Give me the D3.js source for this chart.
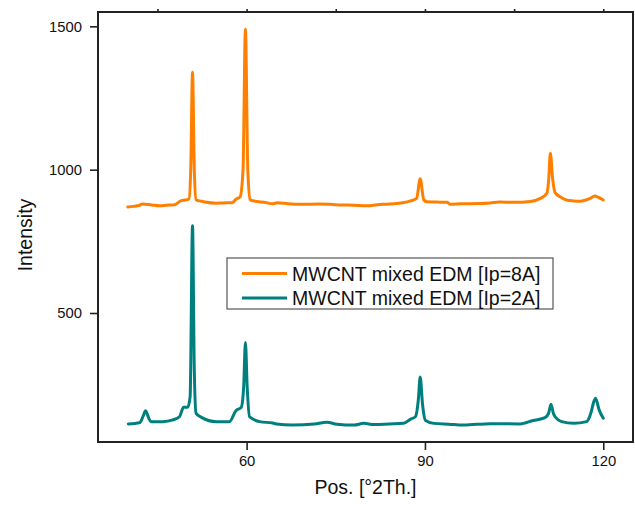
<!DOCTYPE html>
<html lang="en">
<head>
    <meta charset="UTF-8">
    <title>XRD</title>
    <script src="https://cdn.jsdelivr.net/npm/d3@7/dist/d3.min.js"></script>
    <style>
        * { margin: 0; }
        body { background: #fff; }
        svg { display: block; font-family: "Liberation Sans", Arial, sans-serif; }
    </style>
</head>
<body>
    <div id="chart"></div>
    <script>
        // 2theta positions and intensities
        const posHigh = [40, 41, 42, 42.5, 44, 45.4, 46.5, 47.9, 49, 49.7, 50.3, 50.6, 50.9, 51.2, 51.5, 52.1, 53, 54.9, 56, 57.6, 58.2, 58.9, 59.4, 59.8, 60.2, 60.6, 61, 63.3, 64.3, 65.2, 67, 69, 72.2, 74, 76, 78, 80.3, 82, 84, 86, 87.6, 88.6, 89.2, 89.8, 90.3, 92, 93.7, 94.3, 96, 99.3, 101, 102.6, 105, 107.7, 109.4, 110.5, 110.8, 111.1, 111.5, 111.9, 112.8, 113.8, 115, 116.1, 117.7, 118.6, 119.2, 120];
        const intHigh = [870, 872, 876, 880, 877, 874, 876, 878, 892, 894, 898, 1000, 1340, 1000, 895, 891, 887, 883, 884, 885, 897, 905, 1000, 1491, 1000, 895, 892, 885, 881, 885, 881, 879, 880, 879, 877, 876, 874, 878, 880, 884, 891, 900, 968, 895, 888, 887, 886, 879, 881, 882, 884, 887, 886, 889, 900, 917, 960, 1057, 965, 920, 905, 894, 891, 890, 899, 908, 903, 894];

        const posLow = [40.1, 42, 42.6, 43, 43.5, 43.9, 45.9, 47.6, 48.7, 49.4, 50.1, 50.5, 50.9, 51.2, 51.5, 52.4, 54.9, 57.1, 58.2, 59.1, 59.5, 59.8, 60.1, 60.5, 62.2, 64.4, 65, 67.7, 71.4, 73.5, 75.2, 78.1, 79.7, 81.4, 84, 86.4, 87.6, 88.4, 88.9, 89.2, 89.6, 90.1, 91.5, 94, 96.5, 101, 106, 108.2, 110.2, 110.8, 111.2, 111.6, 111.9, 113, 115, 117.2, 117.9, 118.4, 118.7, 119.3, 120];
        const intLow = [113, 117, 140, 159, 135, 121, 121, 127, 138, 171, 171, 209, 804, 300, 150, 136, 121, 121, 159, 171, 240, 397, 240, 138, 121, 116, 113, 109, 113, 119, 112, 109, 115, 111, 113, 115, 130, 138, 200, 277, 180, 125, 115, 112, 109, 114, 113, 125, 135, 150, 182, 150, 138, 121, 115, 121, 150, 190, 203, 162, 133];

        const seriesNames = ['MWCNT mixed EDM [Ip=8A]', 'MWCNT mixed EDM [Ip=2A]'];
        const seriesColors = ['#ff7f00', '#007f7f'];

        const xMajor = [60, 90, 120];
        const xMinor = [45, 75, 105];
        const yMajor = [500, 1000, 1500];
        const yMinor = [250, 750, 1250];

        const W = 635, H = 505;
        const m = { left: 98, right: 2, top: 12, bottom: 63 };

        const svg = d3.select('#chart').append('svg')
            .attr('width', W)
            .attr('height', H);

        const x = d3.scaleLinear().domain([35, 125]).range([m.left, W - m.right]);
        const y = d3.scaleLinear().domain([50, 1550]).range([H - m.bottom, m.top]);

        // minor ticks first, then major ones with labels
        const gx = svg.append('g').attr('transform', `translate(0,${H - m.bottom})`);
        gx.call(d3.axisBottom(x).tickValues(xMinor).tickSize(4).tickFormat(''));
        gx.call(d3.axisBottom(x).tickValues(xMajor).tickSize(8).tickPadding(5).tickSizeOuter(0).tickFormat(d3.format('d')));

        const gy = svg.append('g').attr('transform', `translate(${m.left},0)`);
        gy.call(d3.axisLeft(y).tickValues(yMinor).tickSize(4).tickFormat(''));
        gy.call(d3.axisLeft(y).tickValues(yMajor).tickSize(8).tickPadding(8).tickSizeOuter(0).tickFormat(d3.format('d')));

        const gt = svg.append('g').attr('transform', `translate(0,${m.top})`);
        gt.call(d3.axisTop(x).tickValues(xMinor.concat(xMajor)).tickSize(3).tickFormat(''));

        svg.selectAll('.domain').remove();
        svg.selectAll('.tick line').attr('stroke', '#222').attr('stroke-width', 1.6);
        svg.selectAll('.tick text')
            .attr('font-size', 14.8)
            .attr('font-family', '"Liberation Sans", Arial, sans-serif')
            .attr('fill', '#111');

        // frame
        svg.append('rect')
            .attr('x', m.left)
            .attr('y', m.top)
            .attr('width', W - m.right - m.left)
            .attr('height', H - m.bottom - m.top)
            .attr('fill', 'none')
            .attr('stroke', '#222')
            .attr('stroke-width', 2);

        const line = d3.line()
            .curve(d3.curveMonotoneX)
            .x(d => x(d[0]))
            .y(d => y(d[1]));

        const dataHigh = d3.zip(posHigh, intHigh);
        const dataLow = d3.zip(posLow, intLow);

        [dataHigh, dataLow].forEach((d, i) => {
            svg.append('path')
                .datum(d)
                .attr('fill', 'none')
                .attr('stroke', seriesColors[i])
                .attr('stroke-width', 3)
                .attr('stroke-linejoin', 'round')
                .attr('stroke-linecap', 'round')
                .attr('d', line);
        });

        // axis titles
        svg.append('text')
            .attr('x', (m.left + W - m.right) / 2)
            .attr('y', 494)
            .attr('text-anchor', 'middle')
            .attr('font-size', 19.5)
            .attr('fill', '#111')
            .text('Pos. [°2Th.]');

        svg.append('text')
            .attr('transform', 'translate(32,235) rotate(-90)')
            .attr('text-anchor', 'middle')
            .attr('font-size', 19.5)
            .attr('fill', '#111')
            .text('Intensity');

        // legend
        const lg = svg.append('g').attr('transform', 'translate(227,258)');
        lg.append('rect')
            .attr('width', 326)
            .attr('height', 51)
            .attr('fill', '#fff')
            .attr('stroke', '#555')
            .attr('stroke-width', 1.2);

        seriesNames.forEach((name, i) => {
            const yy = 15.5 + i * 24.5;
            lg.append('line')
                .attr('x1', 15).attr('x2', 60)
                .attr('y1', yy).attr('y2', yy)
                .attr('stroke', seriesColors[i])
                .attr('stroke-width', 3);
            lg.append('text')
                .attr('x', 65)
                .attr('y', yy + 7)
                .attr('font-size', 19.5)
                .attr('fill', '#111')
                .text(name);
        });
    </script>
</body>
</html>
